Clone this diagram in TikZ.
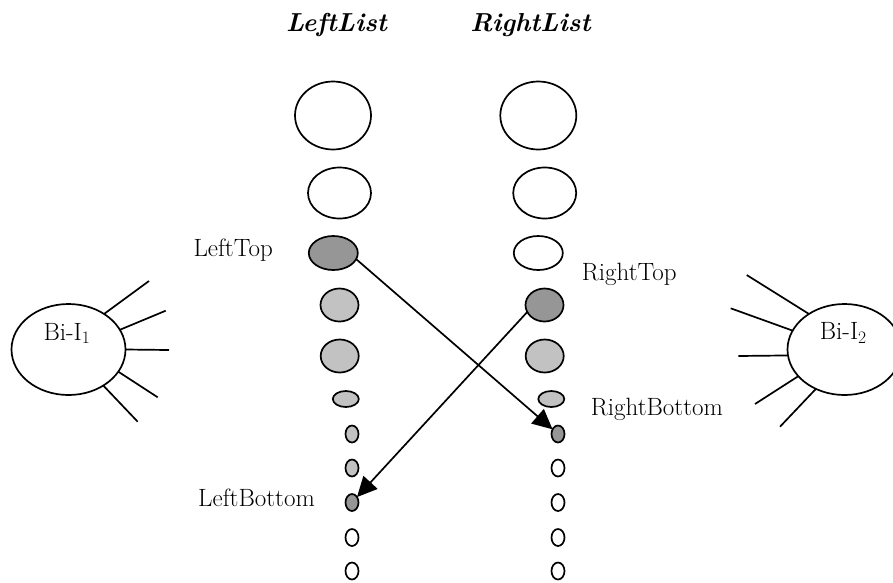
\documentclass[tikz,border=0pt]{standalone}
\usetikzlibrary{shapes.geometric,arrows.meta}
\definecolor{darkfill}{gray}{0.59}
\definecolor{lightfill}{gray}{0.76}
\begin{document}
\begin{tikzpicture}[x=1pt,y=-1pt,
  cell/.style n args={3}{ellipse, draw, line width=1.7pt, fill=#3,
    inner sep=0pt, outer sep=0pt, minimum width=#1, minimum height=#2},
  big/.style={cell={76pt}{68pt}{#1}},
  mid/.style={cell={63pt}{51pt}{#1}},
  flat/.style={cell={49pt}{34pt}{#1}},
  round/.style={cell={38pt}{33pt}{#1}},
  small/.style={cell={26pt}{16pt}{#1}},
  dot/.style={cell={13pt}{17pt}{#1}},
  hub/.style={ellipse, draw, line width=1.7pt, inner sep=0pt, outer sep=0pt,
    minimum width=114pt, minimum height=91pt},
  txt/.style={inner sep=0pt, font=\fontsize{25}{30}\selectfont},
  title/.style={inner sep=0pt, font=\fontsize{26}{31}\selectfont\bfseries\itshape},
  conn/.style={line width=1.7pt, -{Triangle[length=20pt,width=19pt]}},
  spoke/.style={line width=1.7pt}]
\useasboundingbox (0,0) rectangle (893,582);
\clip (0,0) rectangle (893,582);

% column headings
\node[title, anchor=base] (hl) at (336.5,31.7) {LeftList};
\node[title, anchor=base] (hr) at (530.5,31.7) {RightList};

% left list
\node[big=white]      (l1)  at (333,115.5) {};
\node[mid=white]      (l2)  at (339.5,193) {};
\node[flat=darkfill]  (lt)  at (333.3,253) {};
\node[round=lightfill](l4)  at (339.5,305) {};
\node[round=lightfill](l5)  at (339.7,356) {};
\node[small=lightfill](l6)  at (345.8,399) {};
\node[dot=lightfill]  (l7)  at (352,434) {};
\node[dot=lightfill]  (l8)  at (352,468) {};
\node[dot=darkfill]   (lb)  at (352,502.5) {};
\node[dot=white]      (l10) at (352,537.5) {};
\node[dot=white]      (l11) at (352,571) {};

% right list
\node[big=white]      (r1)  at (538.3,115.5) {};
\node[mid=white]      (r2)  at (544.7,193) {};
\node[flat=white]     (r3)  at (538.3,253) {};
\node[round=darkfill] (rt)  at (544.5,305) {};
\node[round=lightfill](r5)  at (544.7,356) {};
\node[small=lightfill](r6)  at (551.3,399) {};
\node[dot=darkfill]   (rb)  at (558,434) {};
\node[dot=white]      (r8)  at (558,468) {};
\node[dot=white]      (r9)  at (558,502.5) {};
\node[dot=white]      (r10) at (558,537.5) {};
\node[dot=white]      (r11) at (558,571) {};

% pointer labels
\node[txt, anchor=base west] (ltl) at (193.3,256) {LeftTop};
\node[txt, anchor=base west] (rtl) at (581.7,280) {RightTop};
\node[txt, anchor=base west] (rbl) at (590.7,415) {RightBottom};
\node[txt, anchor=base east] (lbl) at (315,506) {LeftBottom};

% crossing pointers
\draw[conn] (lt.-15) -- (rb);
\draw[conn] (rt.202) -- (lb);

% the two Bi-I hubs
\node[hub] (b1) at (68.5,349.5) {};
\node[txt, anchor=base] (b1t) at (67,340) {Bi-I\textsubscript{1}};
\node[hub] (b2) at (844.5,349.5) {};
\node[txt, anchor=base] (b2t) at (843.3,339.5) {Bi-I\textsubscript{2}};

% spokes of the left hub
\coordinate (p1) at (149,281);
\coordinate (p2) at (165.7,310.7);
\coordinate (p3) at (169,350);
\coordinate (p4) at (157.7,397.3);
\coordinate (p5) at (137.7,421.7);
\draw[spoke] (b1.45) -- (p1);
\draw[spoke] (b1.21) -- (p2);
\draw[spoke] (b1.0) -- (p3);
\draw[spoke] (b1.-24) -- (p4);
\draw[spoke] (b1.-46) -- (p5);

% spokes of the right hub
\coordinate (q1) at (746.7,275);
\coordinate (q2) at (730.7,308.3);
\coordinate (q3) at (738.3,356);
\coordinate (q4) at (755,404);
\coordinate (q5) at (780,426.7);
\draw[spoke] (b2.135) -- (q1);
\draw[spoke] (b2.160) -- (q2);
\draw[spoke] (b2.186) -- (q3);
\draw[spoke] (b2.210) -- (q4);
\draw[spoke] (b2.234) -- (q5);
\end{tikzpicture}
\end{document}
